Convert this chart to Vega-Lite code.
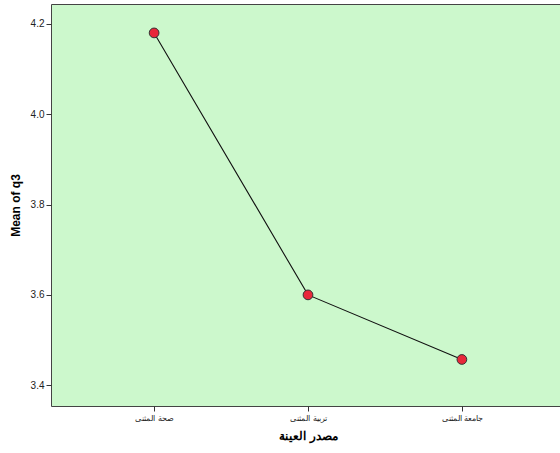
{
  "$schema": "https://vega.github.io/schema/vega-lite/v6.json",
  "autosize": "none",
  "width": 514,
  "height": 402,
  "padding": {"left": 51, "top": 4, "right": 0, "bottom": 47},
  "background": "white",
  "config": {
    "view": {"fill": "#ccf8cc", "stroke": "#444444", "strokeWidth": 1},
    "axis": {"grid": false, "domain": false, "tickColor": "#333333", "labelColor": "#222222", "titleColor": "#000000", "labelFont": "Arial", "titleFont": "Arial"}
  },
  "data": {
    "values": [
      {"source": "صحة المثنى", "order": 1, "mean": 4.18},
      {"source": "تربية المثنى", "order": 2, "mean": 3.60},
      {"source": "جامعة المثنى", "order": 3, "mean": 3.457}
    ]
  },
  "encoding": {
    "x": {
      "field": "source", "type": "nominal", "sort": ["صحة المثنى", "تربية المثنى", "جامعة المثنى"],
      "scale": {"type": "point", "padding": 0.67},
      "axis": {"title": "مصدر العينة", "labelAngle": 0, "labelFontSize": 8, "titleFontSize": 12, "titleFontWeight": "bold", "tickSize": 5, "labelPadding": 3, "titlePadding": 8}
    },
    "y": {
      "field": "mean", "type": "quantitative",
      "scale": {"domain": [3.354, 4.244], "nice": false, "zero": false},
      "axis": {"title": "Mean of q3", "values": [3.4, 3.6, 3.8, 4.0, 4.2], "format": ".1f", "labelFontSize": 10, "titleFontSize": 12, "titleFontWeight": "bold", "tickSize": 5, "labelPadding": 2, "titlePadding": 8}
    }
  },
  "layer": [
    {"mark": {"type": "line", "color": "#111111", "strokeWidth": 1.1}},
    {"mark": {"type": "point", "filled": true, "fill": "#e8283a", "stroke": "#333333", "strokeWidth": 1, "size": 95, "opacity": 1}}
  ]
}
